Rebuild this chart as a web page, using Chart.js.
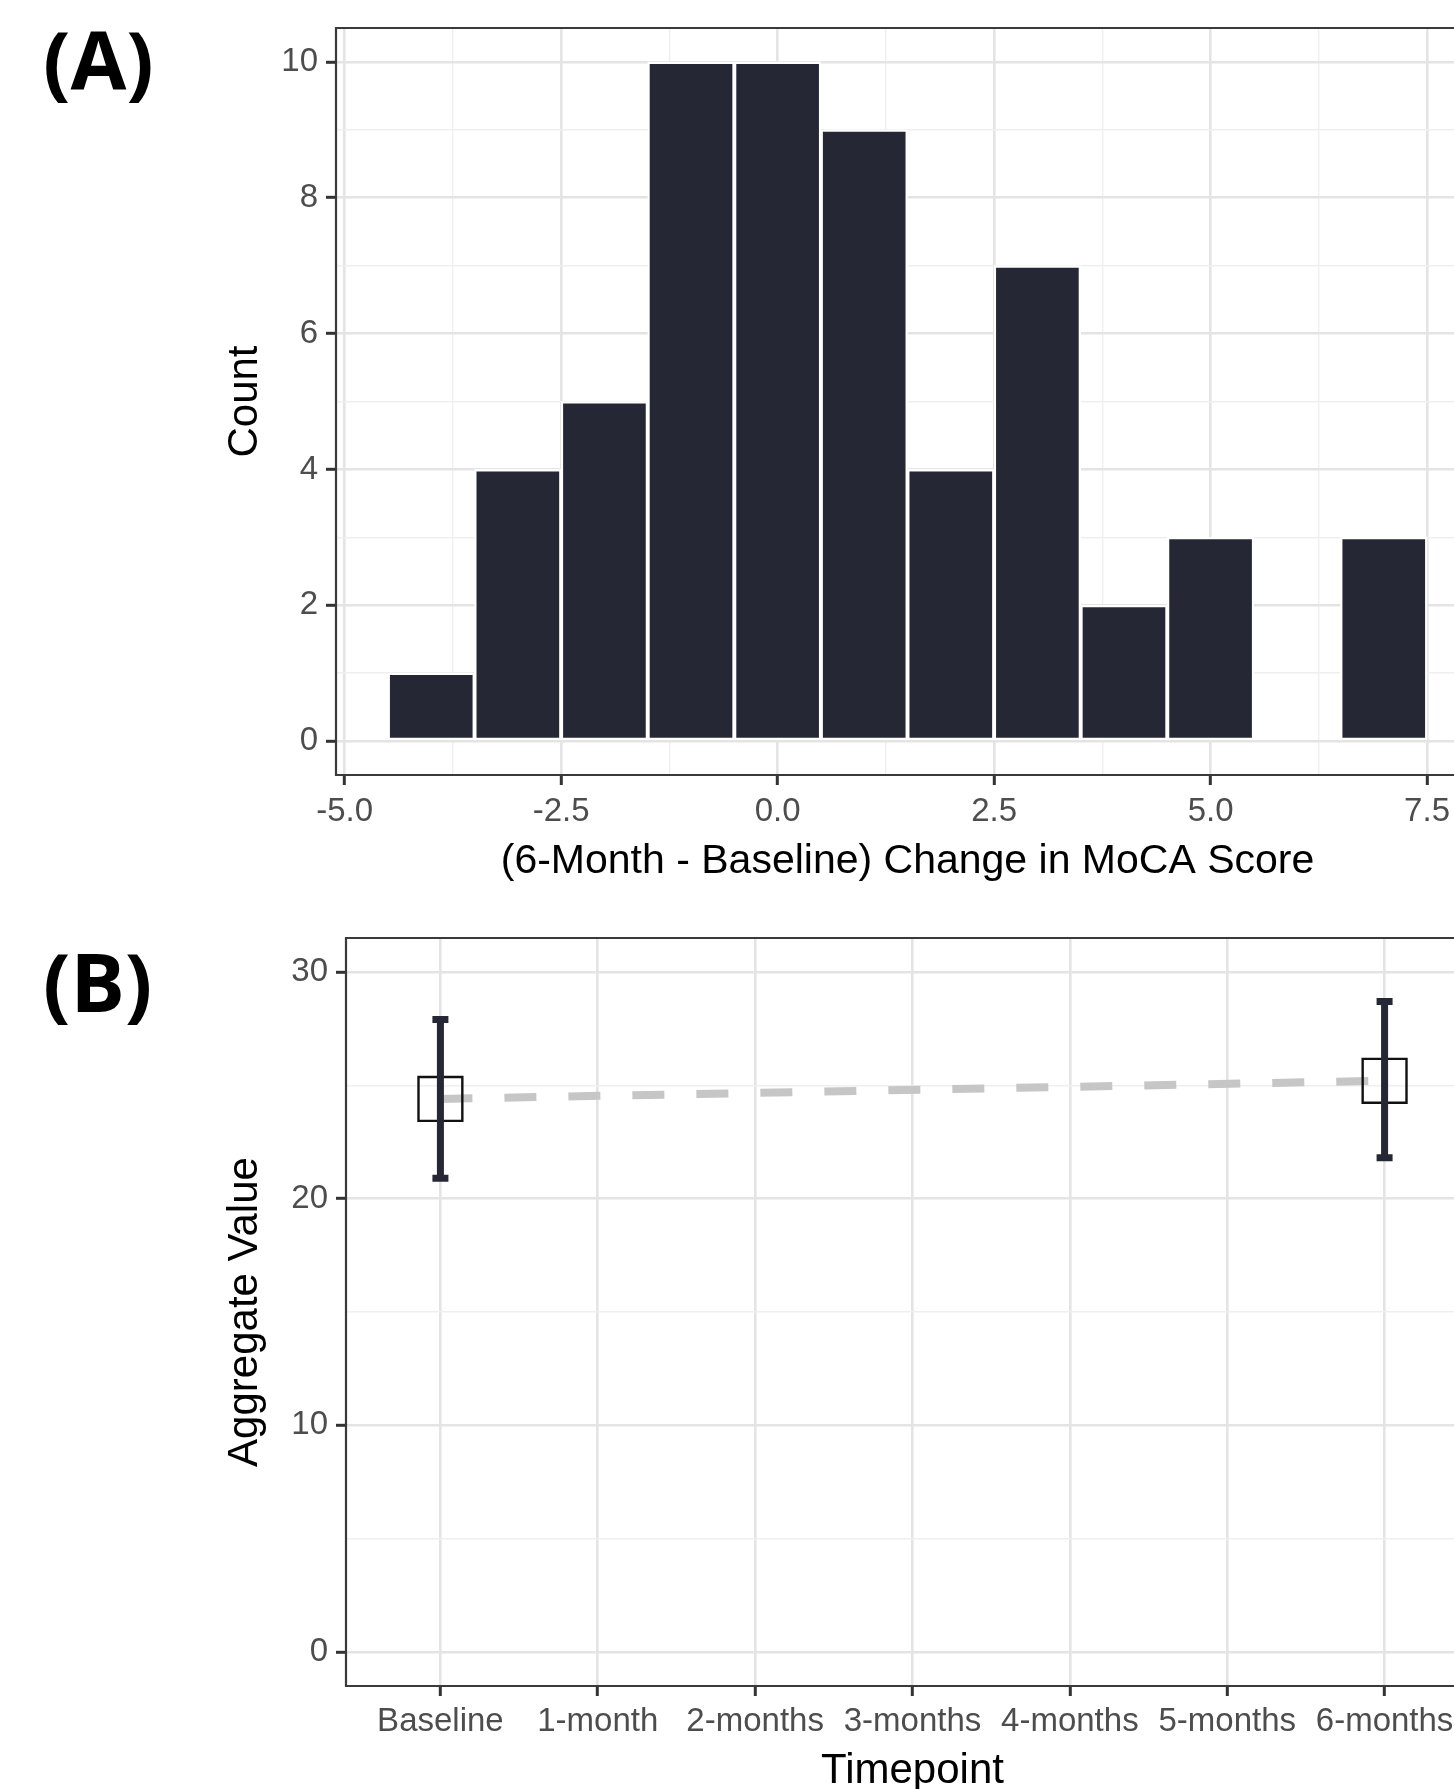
<!DOCTYPE html>
<html>
<head>
<meta charset="utf-8">
<script src="https://cdn.jsdelivr.net/npm/chart.js@4.4.1/dist/chart.umd.min.js"></script>
<style>
  html, body { margin: 0; padding: 0; background: #fff; }
  body { width: 1454px; height: 1789px; position: relative; overflow: hidden; }
  .panel-tag { position: absolute; left: 43px; font: 700 81px/1 'Open Sans', sans-serif; color: #000; }
  canvas { position: absolute; left: 0; }
</style>
</head>
<body>
<div class="panel-tag" style="top:18px">(A)</div>
<div class="panel-tag" style="top:940px">(B)</div>
<!-- the original figure is cut off on the right, so the canvases run past the page edge -->
<canvas id="histChart" width="1479" height="900" style="top:0"></canvas>
<canvas id="timeChart" width="1479" height="897" style="top:900px"></canvas>
<script>
// Panel A: histogram of the 6-month change in MoCA score (bins of width 1)
const binCenters = [-4, -3, -2, -1, 0, 1, 2, 3, 4, 5, 6, 7];
const binCounts = [1, 4, 5, 10, 10, 9, 4, 7, 2, 3, 0, 3];
const xTicksA = [-5, -2.5, 0, 2.5, 5, 7.5];
const yTicksA = [0, 2, 4, 6, 8, 10];

// Panel B: aggregate MoCA value per timepoint (mean with error bar)
const timepoints = ['Baseline', '1-month', '2-months', '3-months', '4-months', '5-months', '6-months'];
const meanScore = [24.4, null, null, null, null, null, 25.2];
const lowScore = [20.9, null, null, null, null, null, 21.8];
const highScore = [27.9, null, null, null, null, null, 28.7];
const yTicksB = [0, 10, 20, 30];

const FONT = "'Liberation Sans', Arial, sans-serif";
const tickFont = { family: FONT, size: 33 };
const titleFont = { family: FONT, size: 42 };
const TICK_GREY = '#4d4d4d';
const BORDER = '#3a3a3a';

// major ticks plus a minor one halfway between each pair (ggplot style grid)
function withMinors(majors) {
  const out = [];
  majors.forEach((v, i) => {
    out.push({ value: v, isMajor: true });
    if (i < majors.length - 1) out.push({ value: (v + majors[i + 1]) / 2, isMajor: false });
  });
  return out;
}

function gridOpts() {
  return {
    color: c => (c.tick && c.tick.isMajor) ? '#e4e4e4' : '#efefef',
    lineWidth: c => (c.tick && c.tick.isMajor) ? 2.6 : 1.4,
    tickColor: c => (c.tick && c.tick.isMajor) ? '#333' : 'rgba(0,0,0,0)',
    tickWidth: 3,
    tickLength: 10,
    offset: false
  };
}

// no extra side padding for the first/last tick labels
const noSidePad = s => { s.paddingLeft = 0; s.paddingRight = 0; };

const panelBorder = {
  id: 'panelBorder',
  afterDraw(chart) {
    const { ctx, chartArea: a } = chart;
    ctx.save();
    ctx.strokeStyle = BORDER;
    ctx.lineWidth = 2.2;
    ctx.beginPath();
    ctx.moveTo(a.right, a.top);
    ctx.lineTo(a.left, a.top);
    ctx.lineTo(a.left, a.bottom);
    ctx.lineTo(a.right, a.bottom);
    ctx.stroke();
    ctx.restore();
  }
};

// ---------- (A) histogram ----------
new Chart(document.getElementById('histChart'), {
  type: 'bar',
  data: {
    datasets: [{
      data: binCenters.map((c, i) => ({ x: c, y: binCounts[i] })),
      backgroundColor: '#252734',
      borderColor: '#ffffff',
      borderWidth: 2.3,
      borderSkipped: false,
      barPercentage: 1,
      categoryPercentage: 1
    }]
  },
  options: {
    responsive: false,
    animation: false,
    devicePixelRatio: 1,
    layout: { autoPadding: false, padding: { top: 28, left: 200, right: 0, bottom: 0 } },
    plugins: { legend: { display: false }, tooltip: { enabled: false } },
    scales: {
      x: {
        type: 'linear',
        min: -5.1,
        max: 8.1,
        offset: false,
        grid: gridOpts(),
        border: { display: false },
        afterBuildTicks: s => { s.ticks = withMinors(xTicksA); },
        afterFit: s => { s.height = 125; noSidePad(s); },
        ticks: {
          autoSkip: false, maxRotation: 0, padding: 7,
          color: TICK_GREY, font: tickFont,
          callback: (v, i, t) => t[i].isMajor ? v.toFixed(1) : ''
        },
        title: {
          display: true,
          text: '(6-Month - Baseline) Change in MoCA Score',
          color: '#000', font: { family: FONT, size: 41 },
          padding: { top: 0, bottom: 14 }
        }
      },
      y: {
        min: -0.5,
        max: 10.5,
        grid: gridOpts(),
        border: { display: false },
        afterBuildTicks: s => { s.ticks = withMinors(yTicksA); },
        afterFit: s => { s.width = 136; },
        ticks: {
          autoSkip: false, padding: 8,
          color: TICK_GREY, font: tickFont,
          callback: (v, i, t) => t[i].isMajor ? String(v) : ''
        },
        title: {
          display: true, text: 'Count',
          color: '#000', font: titleFont,
          padding: { top: 20, bottom: 0 }
        }
      }
    }
  },
  plugins: [panelBorder]
});

// ---------- (B) timepoints ----------
const errorBars = {
  id: 'errorBars',
  afterDatasetsDraw(chart) {
    const { ctx, scales: { x, y } } = chart;
    ctx.save();
    ctx.strokeStyle = '#252734';
    ctx.lineWidth = 7;
    timepoints.forEach((t, i) => {
      if (lowScore[i] == null) return;
      const px = x.getPixelForValue(i);
      const top = y.getPixelForValue(highScore[i]);
      const bot = y.getPixelForValue(lowScore[i]);
      ctx.beginPath();
      ctx.moveTo(px, top); ctx.lineTo(px, bot);
      ctx.moveTo(px - 8, top); ctx.lineTo(px + 8, top);
      ctx.moveTo(px - 8, bot); ctx.lineTo(px + 8, bot);
      ctx.stroke();
    });
    ctx.restore();
  }
};

new Chart(document.getElementById('timeChart'), {
  type: 'line',
  data: {
    datasets: [{
      data: timepoints.map((t, i) => ({ x: i, y: meanScore[i] })).filter(p => p.y != null),
      borderColor: '#c6c6c6',
      borderWidth: 8,
      borderDash: [32, 32],
      fill: false,
      tension: 0,
      pointStyle: 'rect',
      pointRadius: 31,
      pointBorderColor: '#111111',
      pointBorderWidth: 2.4,
      pointBackgroundColor: 'rgba(0,0,0,0)'
    }]
  },
  options: {
    responsive: false,
    animation: false,
    devicePixelRatio: 1,
    layout: { autoPadding: false, padding: { top: 38, left: 200, right: 0, bottom: 0 } },
    plugins: { legend: { display: false }, tooltip: { enabled: false } },
    scales: {
      x: {
        type: 'linear',
        min: -0.6,
        max: 6.6,
        grid: gridOpts(),
        border: { display: false },
        afterBuildTicks: s => { s.ticks = timepoints.map((t, i) => ({ value: i, isMajor: true })); },
        afterFit: s => { s.height = 111; noSidePad(s); },
        ticks: {
          autoSkip: false, maxRotation: 0, padding: 6,
          color: TICK_GREY, font: tickFont,
          callback: (v, i) => timepoints[i]
        },
        title: {
          display: true, text: 'Timepoint',
          color: '#000', font: titleFont,
          padding: { top: 0, bottom: 0 }
        }
      },
      y: {
        min: -1.5,
        max: 31.5,
        grid: gridOpts(),
        border: { display: false },
        afterBuildTicks: s => { s.ticks = withMinors(yTicksB); },
        afterFit: s => { s.width = 146; },
        ticks: {
          autoSkip: false, padding: 8,
          color: TICK_GREY, font: tickFont,
          callback: (v, i, t) => t[i].isMajor ? String(v) : ''
        },
        title: {
          display: true, text: 'Aggregate Value',
          color: '#000', font: titleFont,
          padding: { top: 20, bottom: 0 }
        }
      }
    }
  },
  plugins: [errorBars, panelBorder]
});
</script>
</body>
</html>
